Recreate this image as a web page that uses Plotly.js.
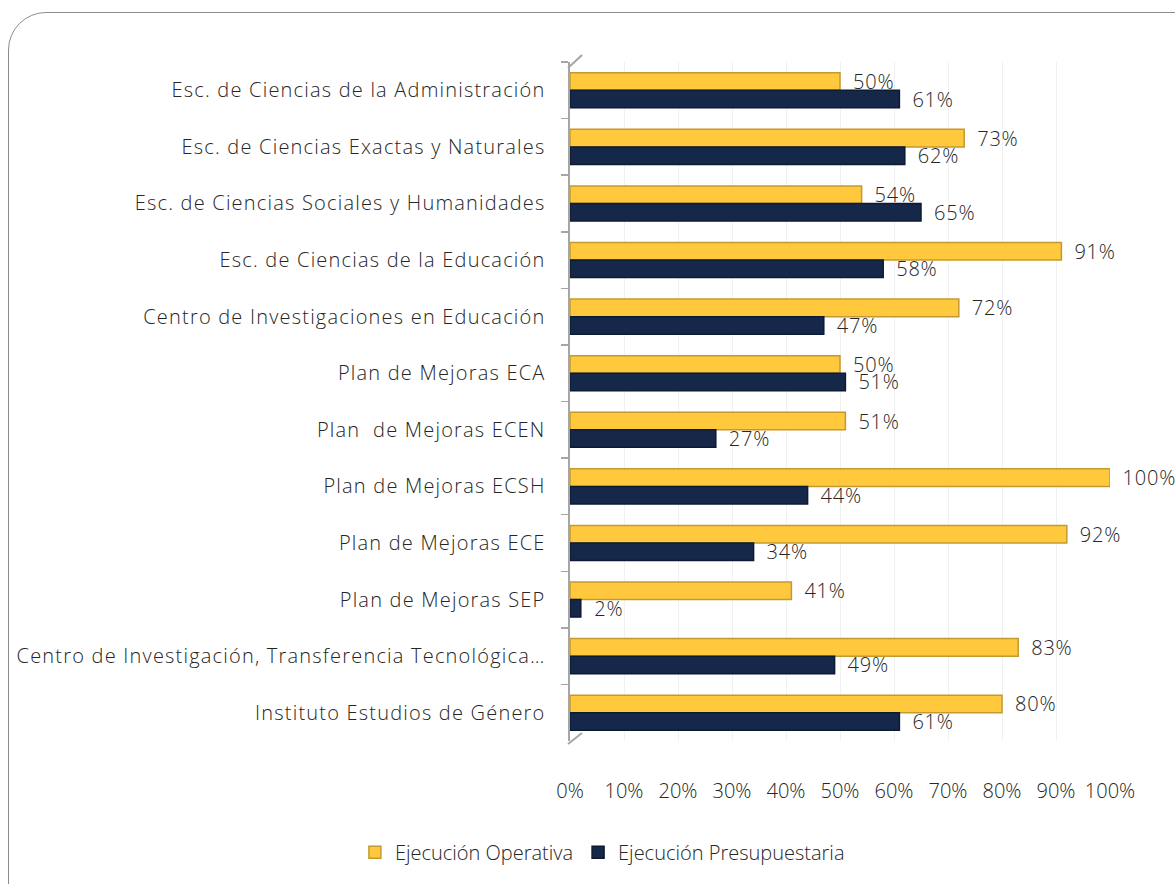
<!DOCTYPE html>
<html>
<head>
<meta charset="utf-8">
<script src="https://cdn.plot.ly/plotly-3.0.1.min.js"></script>
<style>
html,body{margin:0;padding:0;background:#fff;overflow:hidden;}
#wrap{position:relative;width:1175px;height:884px;}
#frame{position:absolute;left:8px;top:12px;width:1220px;height:940px;border:1.5px solid #8c8c8c;border-radius:38px;pointer-events:none;}
#chart{position:absolute;left:0;top:0;width:1175px;height:884px;}
#chart .ytick text {letter-spacing:1.2px;}
#chart .bartext {letter-spacing:0.8px;}
</style>
</head>
<body>
<div id="wrap">
<div id="chart"></div>
<div id="frame"></div>
</div>
<script>
const categories = [
  "Esc. de Ciencias de la Administración",
  "Esc. de Ciencias Exactas y Naturales",
  "Esc. de Ciencias Sociales y Humanidades",
  "Esc. de Ciencias de la Educación",
  "Centro de Investigaciones en Educación",
  "Plan de Mejoras ECA",
  "Plan  de Mejoras ECEN",
  "Plan de Mejoras ECSH",
  "Plan de Mejoras ECE",
  "Plan de Mejoras SEP",
  "Centro de Investigación, Transferencia Tecnológica…",
  "Instituto Estudios de Género"
];
const operativa = [50, 73, 54, 91, 72, 50, 51, 100, 92, 41, 83, 80];
const presupuestaria = [61, 62, 65, 58, 47, 51, 27, 44, 34, 2, 49, 61];
const xTicks = [0, 10, 20, 30, 40, 50, 60, 70, 80, 90, 100];

const fontFam = "'Open Sans', sans-serif";
const pad = '\u00A0\u00A0';
const txt = {family: fontFam, size: 20, color: '#262626', weight: 300};

const traces = [
  {
    type: 'bar', orientation: 'h', name: 'Ejecución Operativa',
    y: categories, x: operativa.map(v => v / 100),
    marker: {color: '#FFC83D', line: {color: '#C39A2E', width: 1.5}},
    text: operativa.map(v => pad + v + '%'), textposition: 'outside', constraintext: 'none',
    textfont: txt, cliponaxis: false, hoverinfo: 'x+y'
  },
  {
    type: 'bar', orientation: 'h', name: 'Ejecución Presupuestaria',
    y: categories, x: presupuestaria.map(v => v / 100),
    marker: {color: '#16284A', line: {color: '#0d1a33', width: 1.5}},
    text: presupuestaria.map(v => pad + v + '%'), textposition: 'outside', constraintext: 'none',
    textfont: txt, cliponaxis: false, hoverinfo: 'x+y'
  }
];

const layout = {
  width: 1175, height: 884,
  margin: {l: 570, r: 65, t: 62, b: 126},
  paper_bgcolor: 'rgba(0,0,0,0)', plot_bgcolor: 'rgba(0,0,0,0)',
  font: txt,
  barmode: 'group', bargap: 0.38, bargroupgap: 0,
  showlegend: true,
  legend: {orientation: 'h', x: 0.06, xanchor: 'center', y: -0.135, yanchor: 'top',
           font: txt, itemwidth: 30},
  xaxis: {
    range: [0, 1], tickvals: xTicks.map(v => v / 100), ticktext: xTicks.map(v => v + '%'),
    showgrid: true, gridcolor: '#f1f1f1', zeroline: false, showline: false,
    ticks: '', ticklabelstandoff: 36, fixedrange: true, tickfont: txt
  },
  yaxis: {
    autorange: 'reversed', type: 'category', showline: true, linecolor: '#a6a6a6', linewidth: 2.5,
    ticks: 'outside', tickson: 'boundaries', ticklen: 7, tickcolor: '#a6a6a6', tickwidth: 1.5,
    ticklabelstandoff: 18, showgrid: false, zeroline: false, fixedrange: true, tickfont: txt
  },
  shapes: [
    {type: 'line', xref: 'paper', yref: 'paper', xsizemode: 'pixel', ysizemode: 'pixel',
     xanchor: 0, yanchor: 1, x0: -2, x1: 12, y0: -6, y1: 7, line: {color: '#a6a6a6', width: 2}},
    {type: 'line', xref: 'paper', yref: 'paper', xsizemode: 'pixel', ysizemode: 'pixel',
     xanchor: 0, yanchor: 0, x0: -2, x1: 12, y0: -3, y1: 8, line: {color: '#a6a6a6', width: 2}}
  ]
};

Plotly.newPlot('chart', traces, layout, {displayModeBar: false, staticPlot: true});
</script>
</body>
</html>
